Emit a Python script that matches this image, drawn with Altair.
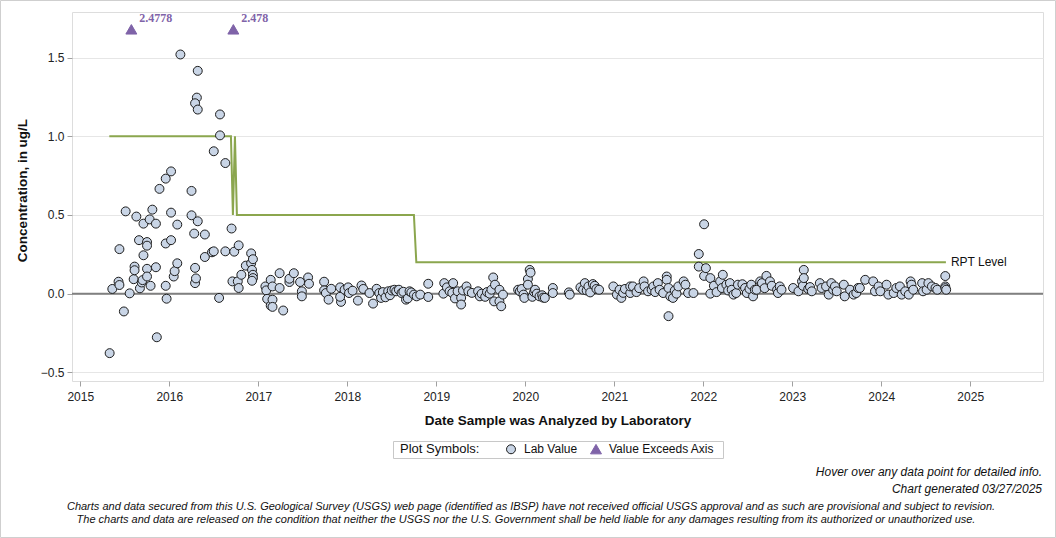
import altair as alt
import pandas as pd

FONT = "Liberation Sans"
NARROW = "Liberation Sans Narrow, Arial Narrow, Liberation Sans"

# Lab results: (decimal year the sample was analyzed, concentration in ug/L)
lab_results = [
    # 2015 - 2016
    (2015.33, -0.378), (2015.36, 0.030), (2015.43, 0.076), (2015.44, 0.055), (2015.44, 0.283),
    (2015.49, -0.113), (2015.51, 0.523), (2015.555, 0.002), (2015.60, 0.092), (2015.61, 0.172),
    (2015.61, 0.149), (2015.63, 0.490), (2015.66, 0.340), (2015.67, 0.034), (2015.69, 0.071),
    (2015.70, 0.086), (2015.71, 0.445), (2015.71, 0.244), (2015.75, 0.328), (2015.75, 0.305),
    (2015.75, 0.158), (2015.75, 0.109), (2015.78, 0.472), (2015.81, 0.534), (2015.79, 0.050),
    (2015.85, 0.445), (2015.85, 0.168), (2015.86, -0.277), (2015.89, 0.666), (2015.96, 0.731),
    (2015.96, 0.319), (2015.96, 0.050), (2015.97, -0.032), (2016.02, 0.777), (2016.02, 0.515),
    (2016.02, 0.340), (2016.05, 0.109), (2016.06, 0.143), (2016.09, 0.193), (2016.09, 0.439),
    (2016.125, 1.520), (2016.32, 1.416), (2016.31, 1.246), (2016.29, 1.210), (2016.32, 1.170),
    (2016.57, 1.139), (2016.57, 1.006), (2016.50, 0.905), (2016.63, 0.830), (2016.25, 0.653),
    (2016.25, 0.498), (2016.28, 0.382), (2016.29, 0.067), (2016.30, 0.097), (2016.29, 0.164),
    (2016.32, 0.460), (2016.40, 0.376), (2016.40, 0.233), (2016.48, 0.263), (2016.50, 0.269),
    (2016.56, -0.027), (2016.63, 0.269), (2016.70, 0.414), (2016.71, 0.078), (2016.73, 0.267),
    (2016.78, 0.307), (2016.77, 0.078), (2016.78, 0.036), (2016.81, 0.120), (2016.86, 0.178),
    (2016.92, 0.256), (2016.92, 0.193), (2016.94, 0.219), (2016.93, 0.151), (2016.94, 0.120),
    (2016.94, 0.099), (2016.93, 0.082),
    # 2017 - 2018
    (2017.08, 0.046), (2017.09, 0.021), (2017.10, -0.033), (2017.14, 0.088), (2017.16, 0.046),
    (2017.14, -0.076), (2017.16, -0.038), (2017.16, -0.084), (2017.24, 0.130), (2017.24, 0.036),
    (2017.28, -0.107), (2017.35, 0.074), (2017.35, 0.095), (2017.40, 0.130), (2017.47, 0.074),
    (2017.49, 0.015), (2017.49, -0.017), (2017.56, 0.103), (2017.57, 0.063), (2017.74, 0.076),
    (2017.74, 0.021), (2017.76, 0.004), (2017.79, -0.038), (2017.82, 0.031), (2017.92, 0.040),
    (2017.93, -0.052), (2017.92, -0.020), (2017.97, 0.025), (2018.01, 0.040), (2018.02, 0.004),
    (2018.06, 0.019), (2018.12, -0.044), (2018.16, 0.052), (2018.18, 0.030), (2018.25, 0.004),
    (2018.29, -0.063), (2018.33, 0.031), (2018.36, 0.004), (2018.38, -0.027), (2018.40, 0.010),
    (2018.43, -0.023), (2018.46, 0.015), (2018.48, -0.010), (2018.50, 0.020), (2018.53, 0.025),
    (2018.55, 0.015), (2018.58, 0.025), (2018.61, 0.004), (2018.63, 0.012), (2018.66, -0.038),
    (2018.68, -0.030), (2018.70, 0.015), (2018.72, 0.008), (2018.75, -0.006), (2018.78, -0.017),
    (2018.82, -0.006), (2018.91, 0.063), (2018.91, -0.021),
    # 2019 - 2020
    (2019.08, 0.000), (2019.09, 0.067), (2019.12, 0.040), (2019.15, 0.015), (2019.18, 0.005),
    (2019.19, 0.067), (2019.21, -0.030), (2019.24, 0.015), (2019.28, -0.027), (2019.28, -0.069),
    (2019.30, 0.020), (2019.34, 0.046), (2019.36, 0.015), (2019.40, 0.005), (2019.47, 0.015),
    (2019.49, -0.017), (2019.51, 0.000), (2019.55, -0.020), (2019.57, 0.010), (2019.60, 0.000),
    (2019.62, 0.025), (2019.64, 0.103), (2019.66, 0.057), (2019.65, -0.049), (2019.71, 0.025),
    (2019.71, -0.049), (2019.73, -0.080), (2019.75, -0.006), (2019.92, 0.025), (2019.94, 0.015),
    (2019.96, 0.030), (2019.98, -0.006), (2019.99, -0.027), (2020.03, 0.093), (2020.03, 0.057),
    (2020.05, 0.151), (2020.06, 0.134), (2020.08, -0.020), (2020.10, 0.010), (2020.11, 0.025),
    (2020.13, 0.000), (2020.16, -0.017), (2020.19, -0.010), (2020.20, -0.025), (2020.22, -0.027),
    (2020.31, 0.036), (2020.31, 0.004), (2020.49, 0.008), (2020.50, -0.006), (2020.62, 0.040),
    (2020.65, 0.025), (2020.67, 0.067), (2020.69, 0.020), (2020.71, 0.046), (2020.73, 0.008),
    (2020.76, 0.061), (2020.78, 0.050), (2020.80, 0.030), (2020.83, 0.025),
    # 2021
    (2020.99, 0.046), (2021.03, -0.006), (2021.06, 0.025), (2021.08, -0.027), (2021.10, 0.005),
    (2021.12, 0.030), (2021.18, 0.004), (2021.18, 0.046), (2021.21, 0.046), (2021.25, 0.010),
    (2021.28, 0.035), (2021.33, 0.078), (2021.34, 0.046), (2021.38, 0.015), (2021.42, 0.025),
    (2021.44, 0.046), (2021.46, 0.010), (2021.49, 0.067), (2021.51, 0.025), (2021.55, 0.004),
    (2021.59, 0.109), (2021.59, 0.088), (2021.61, 0.036), (2021.61, -0.143), (2021.63, -0.017),
    (2021.66, -0.027), (2021.68, 0.020), (2021.70, 0.000), (2021.72, 0.046), (2021.78, 0.078),
    (2021.80, 0.057), (2021.83, 0.004), (2021.89, 0.004),
    # 2022
    (2021.95, 0.252), (2021.95, 0.172), (2022.01, 0.441), (2022.01, 0.113), (2022.03, 0.162),
    (2022.08, 0.099), (2022.08, 0.000), (2022.12, 0.050), (2022.15, 0.010), (2022.19, 0.078),
    (2022.21, 0.036), (2022.22, 0.120), (2022.26, 0.057), (2022.28, 0.020), (2022.30, 0.067),
    (2022.32, 0.025), (2022.34, -0.006), (2022.37, 0.004), (2022.39, 0.057), (2022.44, 0.060),
    (2022.47, 0.036), (2022.49, 0.004), (2022.52, 0.030), (2022.54, 0.057), (2022.56, -0.017),
    (2022.58, 0.025), (2022.60, 0.025), (2022.64, 0.078), (2022.66, 0.067), (2022.69, 0.035),
    (2022.71, 0.113), (2022.75, 0.078), (2022.77, 0.050), (2022.83, 0.025), (2022.84, 0.004),
    (2022.86, 0.046), (2022.88, 0.025),
    # 2023
    (2023.01, 0.036), (2023.07, 0.015), (2023.11, 0.078), (2023.12, 0.050), (2023.13, 0.151),
    (2023.13, 0.099), (2023.18, 0.030), (2023.20, 0.042), (2023.22, 0.015), (2023.31, 0.067),
    (2023.33, 0.036), (2023.38, 0.046), (2023.41, -0.006), (2023.44, 0.067), (2023.46, 0.025),
    (2023.48, 0.046), (2023.50, 0.015), (2023.58, 0.057), (2023.59, -0.017), (2023.65, 0.025),
    (2023.69, -0.006), (2023.72, 0.004), (2023.74, 0.036), (2023.76, 0.036), (2023.82, 0.088),
    (2023.91, 0.078), (2023.93, 0.015), (2023.97, 0.046), (2023.99, 0.015),
    # 2024
    (2024.06, 0.057), (2024.08, -0.006), (2024.14, 0.004), (2024.17, 0.036), (2024.21, 0.046),
    (2024.23, -0.006), (2024.27, 0.015), (2024.31, -0.006), (2024.33, 0.078), (2024.34, 0.057),
    (2024.36, 0.025), (2024.46, 0.067), (2024.47, 0.015), (2024.51, 0.025), (2024.53, 0.067),
    (2024.57, 0.046), (2024.61, 0.036), (2024.63, 0.025), (2024.72, 0.112), (2024.72, 0.046),
    (2024.72, 0.035), (2024.73, 0.025),
]

# Results above the top of the concentration axis
over_years = [2015.574, 2016.72]
over_values = [2.4778, 2.478]
AXIS_CAP = 1.68

# Reporting level (RPT) over time
rpt_years = [2015.326, 2016.693, 2016.715, 2016.738, 2016.760, 2018.749, 2018.776, 2024.727]
rpt_levels = [1.0, 1.0, 0.5, 1.0, 0.5, 0.5, 0.2, 0.2]

year_ticks = list(range(2015, 2026))
conc_ticks = [-0.5, 0.0, 0.5, 1.0, 1.5]

kinds = ["Lab Value", "Value Exceeds Axis"]
CIRCLE_FILL = "#c9d5e6"
PURPLE = "#7f63a8"
GREEN = "#8ba64e"

lab_df = pd.DataFrame(lab_results, columns=["year", "value"])
lab_df["kind"] = kinds[0]
over_df = pd.DataFrame({"year": over_years, "value": over_values, "kind": kinds[1]})
pts_df = pd.concat([lab_df, over_df], ignore_index=True)
rpt_df = pd.DataFrame({"year": rpt_years, "value": rpt_levels, "seq": range(len(rpt_years))})

W, H = 971, 369
x_scale = alt.Scale(domain=[2014.907, 2025.818], nice=False, zero=False)
y_scale = alt.Scale(domain=[-0.555, 1.79], nice=False, zero=False)

x_axis = alt.Axis(
    values=year_ticks, format="d", grid=False, domain=False,
    tickSize=5, tickColor="#a0a0a0", labelFont=FONT, labelFontSize=12,
    labelColor="#222", labelPadding=5, labelFlush=False,
    title="Date Sample was Analyzed by Laboratory", titleFont=FONT,
    titleFontSize=13.5, titleFontWeight="bold", titleColor="#111",
    titleY=39, titleBaseline="middle",
)
y_axis = alt.Axis(
    values=conc_ticks, format=".1f", grid=True, gridColor="#e6e6e6",
    domain=False, tickSize=5, tickColor="#a0a0a0", labelFont=FONT,
    labelFontSize=12, labelColor="#222", labelPadding=3,
    title="Concentration, in ug/L", titleFont=FONT, titleFontSize=13.5,
    titleFontWeight="bold", titleColor="#111", titleX=-50, titleY=178,
    titleAngle=270, titleAlign="center", titleBaseline="middle",
)

X = alt.X("year:Q", scale=x_scale, axis=x_axis)

legend = alt.Legend(
    title="Plot Symbols:", orient="none", legendX=328, legendY=431,
    direction="horizontal", titleOrient="left", titleFont=FONT,
    titleFontSize=13, titleFontWeight="normal", titleColor="#111",
    titlePadding=25, labelFont=FONT, labelFontSize=12, labelColor="#111",
    labelOffset=7, columnPadding=10, symbolStrokeWidth=1, padding=0,
)

# Box drawn around the symbol legend
legend_box = alt.Chart(pd.DataFrame({"a": [0]})).mark_rect(
    fillOpacity=0, stroke="#c8c8c8", strokeWidth=1
).encode(
    x=alt.value(321.5), x2=alt.value(651.5), y=alt.value(429.5), y2=alt.value(446.5)
)

zero_line = alt.Chart(pd.DataFrame({"value": [0.0]})).mark_rule(
    color="#808080", strokeWidth=2
).encode(y=alt.Y("value:Q", scale=y_scale, axis=y_axis))

rpt_line = alt.Chart(rpt_df).mark_line(color=GREEN, strokeWidth=2).encode(
    x=X, y=alt.Y("value:Q", scale=y_scale, axis=y_axis), order="seq:Q"
)

rpt_label = alt.Chart(rpt_df.tail(1)).mark_text(
    text="RPT Level", align="left", baseline="middle", dx=5,
    font=FONT, fontSize=12, color="#111"
).encode(x=X, y=alt.Y("value:Q", scale=y_scale, axis=y_axis))

points = alt.Chart(pts_df).transform_calculate(
    shown=f"min(datum.value, {AXIS_CAP})"
).mark_point(filled=True, strokeWidth=1, opacity=1).encode(
    x=X,
    y=alt.Y("shown:Q", scale=y_scale, axis=y_axis),
    shape=alt.Shape("kind:N", scale=alt.Scale(domain=kinds, range=["circle", "triangle-up"]), legend=legend),
    fill=alt.Fill("kind:N", scale=alt.Scale(domain=kinds, range=[CIRCLE_FILL, PURPLE]), legend=legend),
    stroke=alt.Stroke("kind:N", scale=alt.Scale(domain=kinds, range=["#1c1c1c", PURPLE]), legend=legend),
    size=alt.Size("kind:N", scale=alt.Scale(domain=kinds, range=[80, 120]), legend=legend),
)

over_labels = alt.Chart(over_df).transform_calculate(
    shown=f"min(datum.value, {AXIS_CAP})"
).mark_text(
    align="left", baseline="middle", dx=8, dy=-11, font="Liberation Serif",
    fontSize=12, fontWeight="bold", color=PURPLE
).encode(
    x=X, y=alt.Y("shown:Q", scale=y_scale, axis=y_axis),
    text=alt.Text("value:Q", format=".5~g"),
)

# Notes under the chart
notes_df = pd.DataFrame({
    "text": [
        "Hover over any data point for detailed info.",
        "Chart generated 03/27/2025",
        "Charts and data secured from this U.S. Geological Survey (USGS) web page (identified as IBSP) have not received official USGS approval and as such are provisional and subject to revision.",
        "The charts and data are released on the condition that neither the USGS nor the U.S. Government shall be held liable for any damages resulting from its authorized or unauthorized use.",
    ],
    "px": [970, 970, 459, 454],
    "py": [460, 477, 495, 508],
})
right_notes = alt.Chart(notes_df.iloc[:2]).mark_text(
    align="right", baseline="middle", font=NARROW, fontSize=12,
    fontStyle="italic", color="#111"
).encode(x=alt.X("px:Q", scale=None), y=alt.Y("py:Q", scale=None), text="text:N")
center_notes = alt.Chart(notes_df.iloc[2:]).mark_text(
    align="center", baseline="middle", font=NARROW, fontSize=11,
    fontStyle="italic", color="#111"
).encode(x=alt.X("px:Q", scale=None), y=alt.Y("py:Q", scale=None), text="text:N")

frame = alt.Chart(pd.DataFrame({"a": [0]})).mark_rect(
    fillOpacity=0, stroke="#cfcfcf", strokeWidth=1
).encode(
    x=alt.value(-71.5), x2=alt.value(983.5), y=alt.value(-11.5), y2=alt.value(525.5)
)

chart = alt.layer(
    frame, legend_box, zero_line, rpt_line, rpt_label, points, over_labels,
    right_notes, center_notes
).resolve_scale(x="shared", y="shared").properties(
    width=W, height=H,
    autosize=alt.AutoSizeParams(type="none"),
    padding={"left": 72, "top": 12, "right": 13, "bottom": 157},
).configure_view(stroke="#a6a6a6", strokeWidth=1).configure(background="white")

chart.save("out.html", embed_options={"renderer": "svg", "actions": False})
